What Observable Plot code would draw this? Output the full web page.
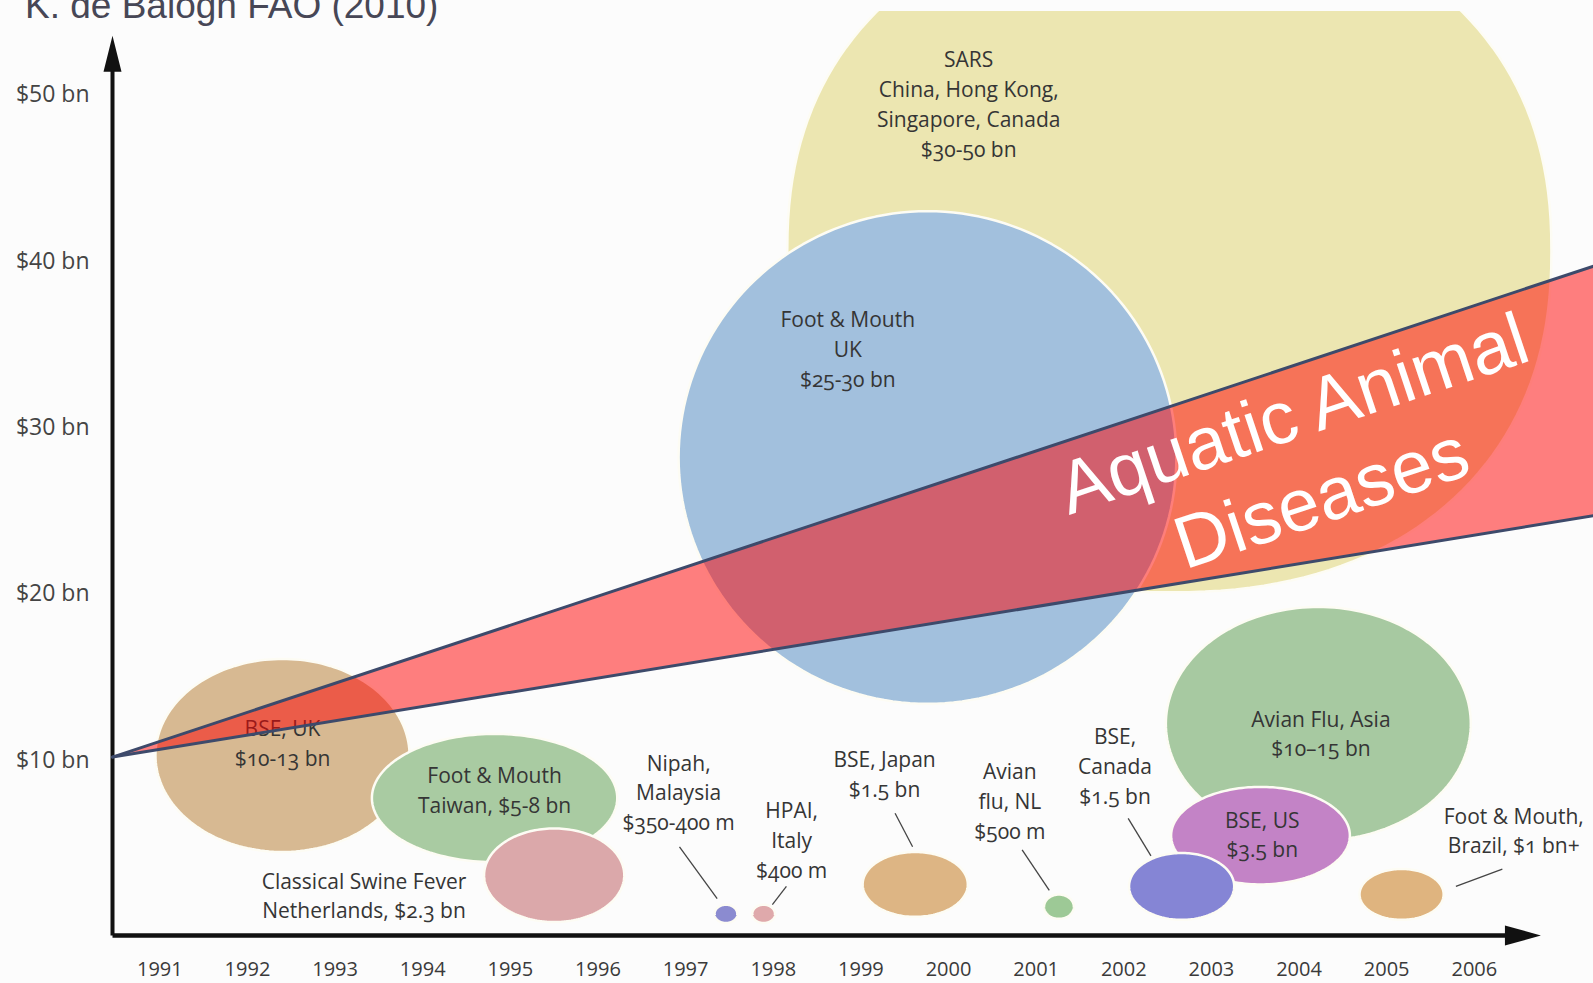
<!DOCTYPE html>
<html>
<head>
<meta charset="utf-8">
<script src="https://cdn.jsdelivr.net/npm/d3@7"></script>
<script src="https://cdn.jsdelivr.net/npm/@observablehq/plot@0.6"></script>
<style>
  html, body { margin: 0; padding: 0; background: #fcfcfc; overflow: hidden; }
  #wrap { position: relative; width: 1593px; height: 983px; }
  #title {
    position: absolute; left: 25px; top: -13px; z-index: 2;
    font: 37px "Liberation Sans", Arial, sans-serif; line-height: 37px;
    color: #474756; white-space: nowrap;
  }
  #wrap svg { display: block; }
</style>
</head>
<body>
<div id="wrap"><div id="title">K. de Balogh FAO (2010)</div></div>
<script>
// Major animal disease outbreaks and their economic losses.
// Each bubble: centre year, centre loss ($bn), half-extent in years and in $bn.
const events = [
  "SARS", "Foot & Mouth UK", "BSE UK", "Foot & Mouth Taiwan", "Classical Swine Fever NL",
  "Nipah Malaysia", "HPAI Italy", "BSE Japan", "Avian flu NL", "Avian Flu Asia",
  "BSE US", "BSE Canada", "Foot & Mouth Brazil"
];
const eventYear   = [2002.52, 1999.76, 1992.40, 1994.82, 1995.50, 1997.46, 1997.89, 1999.62, 2001.26, 2004.22, 2003.56, 2002.66, 2005.17];
const eventLoss   = [40.6, 28.2, 10.3, 7.74, 3.10, 0.78, 0.78, 2.55, 1.21, 12.2, 5.48, 2.43, 1.95];
const spreadYears = [4.36, 2.84, 1.45, 1.40, 0.80, 0.13, 0.13, 0.60, 0.17, 1.74, 1.02, 0.60, 0.48];
const spreadLoss  = [20.5, 14.8, 5.8, 3.85, 2.81, 0.55, 0.55, 1.95, 0.73, 7.02, 2.93, 2.01, 1.53];

// Annotation text for each outbreak
const labelText = [
  "SARS\nChina, Hong Kong,\nSingapore, Canada\n$30-50 bn",
  "Foot & Mouth\nUK\n$25-30 bn",
  "BSE, UK\n$10-13 bn",
  "Foot & Mouth\nTaiwan, $5-8 bn",
  "Classical Swine Fever\nNetherlands, $2.3 bn",
  "Nipah,\nMalaysia\n$350-400 m",
  "HPAI,\nItaly\n$400 m",
  "BSE, Japan\n$1.5 bn",
  "Avian\nflu, NL\n$500 m",
  "Avian Flu, Asia\n$10–15 bn",
  "BSE, US\n$3.5 bn",
  "BSE,\nCanada\n$1.5 bn",
  "Foot & Mouth,\nBrazil, $1 bn+"
];
const labelYear = [2000.23, 1998.85, 1992.40, 1994.82, 1993.33, 1996.92, 1998.21, 1999.27, 2000.70, 2004.25, 2003.58, 2001.90, 2006.45];
const labelLoss = [49.54, 34.82, 11.16, 8.32, 1.97, 8.17, 5.30, 9.30, 7.65, 11.71, 5.64, 9.76, 5.88];

// Leader lines from small-bubble labels to their bubbles
const leaderEvent = ["Nipah Malaysia", "HPAI Italy", "BSE Japan", "Avian flu NL", "BSE Canada", "Foot & Mouth Brazil"];
const leaderYear1 = [1996.93, 1998.15, 1999.39, 2000.84, 2002.05, 2006.32];
const leaderLoss1 = [4.81, 2.43, 6.83, 4.63, 6.52, 3.47];
const leaderYear2 = [1997.36, 1997.99, 1999.59, 2001.15, 2002.31, 2005.79];
const leaderLoss2 = [1.70, 1.33, 4.81, 2.19, 4.26, 2.43];

// Rising band for aquatic animal diseases
const bandYear = [1990.46, 2007.36];
const bandLow  = [10.2, 24.7];
const bandHigh = [10.2, 39.7];

// Axis ticks
const yearTicks = [1991, 1992, 1993, 1994, 1995, 1996, 1997, 1998, 1999, 2000, 2001, 2002, 2003, 2004, 2005, 2006];
const lossTicks = [10, 20, 30, 40, 50];

// Styling
const palette = {
  "SARS": "#ece6b1",
  "Foot & Mouth UK": "#a2c0dd",
  "BSE UK": "#d7b992",
  "Foot & Mouth Taiwan": "#a9cba2",
  "Classical Swine Fever NL": "#dba8aa",
  "Nipah Malaysia": "#8b8bd0",
  "HPAI Italy": "#dfa9ab",
  "BSE Japan": "#ddb584",
  "Avian flu NL": "#9dc996",
  "Avian Flu Asia": "#a7c9a1",
  "BSE US": "#c383c6",
  "BSE Canada": "#8585d5",
  "Foot & Mouth Brazil": "#dfb47f"
};
const roundness = {"SARS": 2.25}; // superellipse exponent (2 = plain ellipse)

const xDomain = [1990.46, 2007.36];
const yDomain = [-0.52, 55.0];
const xArrowTip = 2006.76;
const yArrowTip = 53.55;

// Outline points for every bubble
const outlines = events.flatMap((name, i) => {
  const n = roundness[name] ?? 2, steps = 180;
  return d3.range(steps).map(k => {
    const t = (2 * Math.PI * k) / steps;
    const c = Math.cos(t), s = Math.sin(t);
    return {
      name,
      x: eventYear[i] + spreadYears[i] * Math.sign(c) * Math.pow(Math.abs(c), 2 / n),
      y: eventLoss[i] + spreadLoss[i] * Math.sign(s) * Math.pow(Math.abs(s), 2 / n)
    };
  });
});

const labels = labelText.map((text, i) => ({text, x: labelYear[i], y: labelLoss[i]}));
const leaders = leaderEvent.map((name, i) => ({name, x1: leaderYear1[i], y1: leaderLoss1[i], x2: leaderYear2[i], y2: leaderLoss2[i]}));
const band = bandYear.map((x, i) => ({x, low: bandLow[i], high: bandHigh[i]}));

// Axis lines: horizontal (years) and vertical (losses)
const axisLines = [
  {x1: xDomain[0], y1: yDomain[0], x2: xArrowTip - 0.2, y2: yDomain[0], w: 4.5},
  {x1: xDomain[0], y1: yDomain[0], x2: xDomain[0], y2: yArrowTip - 1, w: 4}
];

// Filled arrow heads drawn from the tip
const headUp = {draw(ctx) { ctx.moveTo(0, 0); ctx.lineTo(9, 36); ctx.lineTo(-9, 36); ctx.closePath(); }};
const headRight = {draw(ctx) { ctx.moveTo(0, 0); ctx.lineTo(-36, -10); ctx.lineTo(-36, 10); ctx.closePath(); }};

const chart = Plot.plot({
  width: 1593,
  height: 983,
  marginLeft: 112,
  marginRight: 0,
  marginTop: 11,
  marginBottom: 48,
  x: {domain: xDomain},
  y: {domain: yDomain},
  color: {type: "identity"},
  style: {
    background: "transparent",
    fontFamily: "'Open Sans', sans-serif",
    fontSize: "21px",
    color: "#3a3a3a",
    fontVariantNumeric: "oldstyle-nums"
  },
  marks: [
    // bubbles
    Plot.line(outlines, {
      x: "x", y: "y", z: "name",
      fill: d => palette[d.name],
      stroke: "#fdfcf4", strokeWidth: 2.5,
      curve: "linear-closed", clip: true
    }),
    // annotations
    Plot.link(leaders, {x1: "x1", y1: "y1", x2: "x2", y2: "y2", stroke: "#454545", strokeWidth: 1.3}),
    Plot.text(labels, {
      x: "x", y: "y", text: "text",
      fontSize: 21, lineHeight: 1.42, fill: "#353535"
    }),
    // axes
    Plot.axisX({ticks: yearTicks, tickFormat: d => String(d), tickSize: 0, tickPadding: 26, fontSize: 20}),
    Plot.axisY({ticks: lossTicks, tickFormat: d => `$${d} bn`, tickSize: 0, tickPadding: 23, fontSize: 23, fill: "#444"}),
    Plot.link(axisLines, {x1: "x1", y1: "y1", x2: "x2", y2: "y2", stroke: "#111", strokeWidth: "w"}),
    Plot.dot([{x: xDomain[0], y: yArrowTip}], {x: "x", y: "y", symbol: headUp, fill: "#111", stroke: "none"}),
    Plot.dot([{x: xArrowTip, y: yDomain[0]}], {x: "x", y: "y", symbol: headRight, fill: "#111", stroke: "none"}),
    // aquatic animal diseases band
    Plot.areaY(band, {x: "x", y1: "low", y2: "high", fill: "#ff0000", fillOpacity: 0.5}),
    Plot.line(band, {x: "x", y: "high", stroke: "#3d4a6b", strokeWidth: 3}),
    Plot.line(band, {x: "x", y: "low", stroke: "#3d4a6b", strokeWidth: 3}),
    Plot.text([{x: 2004.08, y: 28.5}], {
      x: "x", y: "y", text: () => "Aquatic Animal\nDiseases",
      rotate: -18.5, fontSize: 74, lineHeight: 1.2,
      fontFamily: "'Liberation Sans', Arial, sans-serif", fill: "white"
    })
  ]
});

document.getElementById("wrap").appendChild(chart);
</script>
</body>
</html>
